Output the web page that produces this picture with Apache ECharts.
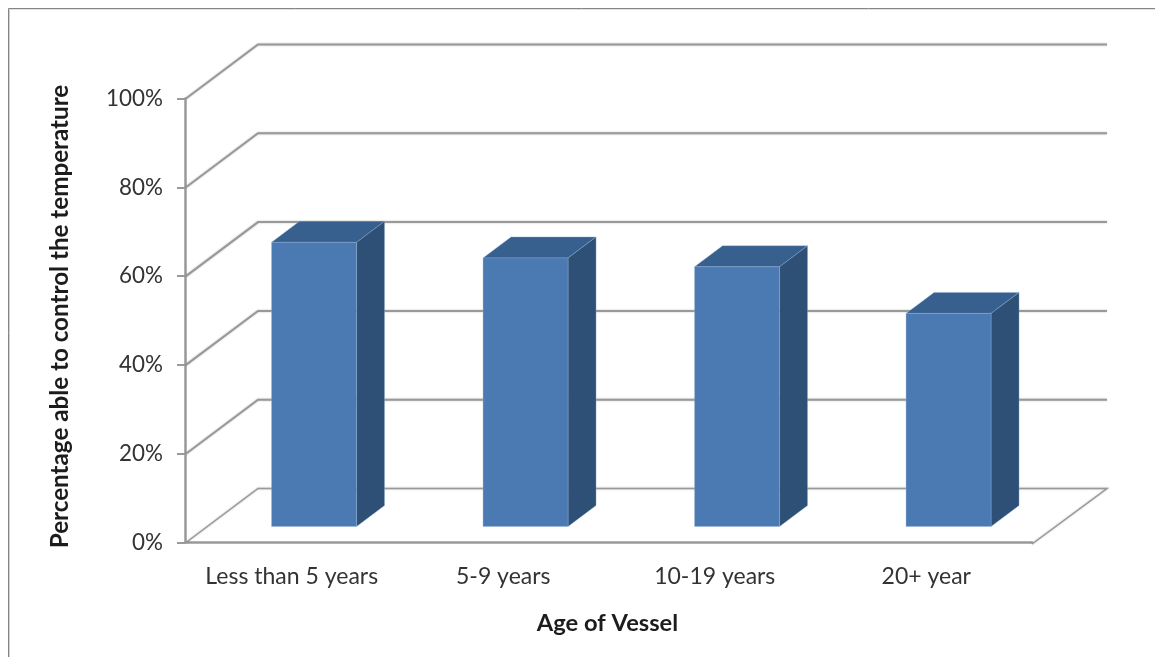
<!DOCTYPE html>
<html>
<head>
<meta charset="utf-8">
<style>
  html, body { margin: 0; padding: 0; background: #fff; }
  #vesselChart { width: 1155px; height: 657px; }
</style>
</head>
<body>
<div id="vesselChart"></div>
<script src="https://cdn.jsdelivr.net/npm/echarts@6/dist/echarts.min.js"></script>
<script>
const categories = ["Less than 5 years", "5-9 years", "10-19 years", "20+ year"];
const percentAble = [64, 60.5, 58.5, 48];
const wallTicks = [0, 20, 40, 60, 80, 100];

// fake 3d: how far the back wall and the bars are pushed back
const WALL_DX = 72, WALL_RIGHT_DX = 75, WALL_DY = -54;
const BAR_SHIFT_X = 22.3, BAR_SHIFT_Y = -16;
const BAR_DX = 28, BAR_DY = -21;
const BAR_WIDTH = 85;
const LINE = "#999999";
const FONT = "Lato";

let myChart = echarts.init(document.getElementById("vesselChart"));

function renderWall(params, api) {
  let value = api.value(0);
  let first = api.coord([0, value]);
  let last = api.coord([categories.length - 1, value]);
  let band = api.size([1, 0])[0];
  let left = first[0] - band / 2;
  let right = last[0] + band / 2;
  let y = first[1];
  let points = [[left, y], [left + WALL_DX, y + WALL_DY], [right + WALL_RIGHT_DX, y + WALL_DY]];
  if (value === 0) {
    points.push([right, y + 1.5]);
  }
  return {
    type: "polyline",
    shape: { points },
    style: {
      stroke: LINE,
      fill: null,
      lineWidth: value === 0 ? 1.5 : 2,
      shadowBlur: 2,
      shadowColor: "rgba(0,0,0,0.25)",
    },
  };
}

function renderBar(params, api) {
  let top = api.coord([api.value(0), api.value(1)]);
  let base = api.coord([api.value(0), 0]);
  let x0 = top[0] + BAR_SHIFT_X - BAR_WIDTH / 2;
  let x1 = x0 + BAR_WIDTH;
  let y0 = top[1] + BAR_SHIFT_Y;
  let y1 = base[1] + BAR_SHIFT_Y;
  let edge = { stroke: "rgba(150,180,215,0.35)", lineWidth: 1 };
  return {
    type: "group",
    children: [
      {
        type: "polygon",
        shape: { points: [[x0, y0], [x0 + BAR_DX, y0 + BAR_DY], [x1 + BAR_DX, y0 + BAR_DY], [x1, y0]] },
        style: { fill: "#38608f", ...edge },
      },
      {
        type: "polygon",
        shape: { points: [[x1, y0], [x1 + BAR_DX, y0 + BAR_DY], [x1 + BAR_DX, y1 + BAR_DY], [x1, y1]] },
        style: { fill: "#2e5077", ...edge },
      },
      {
        type: "rect",
        shape: { x: x0, y: y0, width: BAR_WIDTH, height: y1 - y0 },
        style: { fill: "#4b7ab3", ...edge },
      },
    ],
  };
}

myChart.setOption({
  animation: false,
  backgroundColor: "#fff",
  graphic: [
    { type: "line", shape: { x1: 9.5, y1: 9.5, x2: 1155, y2: 9.5 }, style: { stroke: "#e2e2e2", lineWidth: 1 } },
    { type: "line", shape: { x1: 9.5, y1: 9.5, x2: 9.5, y2: 657 }, style: { stroke: "#d0d0d0", lineWidth: 1 } },
    { type: "line", shape: { x1: 8.5, y1: 8.5, x2: 1155, y2: 8.5 }, style: { stroke: "#858585", lineWidth: 1 } },
    { type: "line", shape: { x1: 8.5, y1: 8.5, x2: 8.5, y2: 657 }, style: { stroke: "#858585", lineWidth: 1 } },
  ],
  grid: { left: 186, top: 98.5, width: 846, height: 444 },
  xAxis: {
    type: "category",
    data: categories,
    offset: 1.5,
    name: "Age of Vessel",
    nameLocation: "middle",
    nameGap: 67,
    nameTextStyle: { fontFamily: FONT, fontSize: 23.7, fontWeight: "bold", color: "#1c1c1c", padding: [0, 3, 0, 0] },
    axisLine: { lineStyle: { color: LINE, width: 2.5 } },
    axisTick: { length: 6, lineStyle: { color: LINE, width: 1.5 } },
    axisLabel: { fontFamily: FONT, fontSize: 23, color: "#333", margin: 21, interval: 0 },
  },
  yAxis: {
    type: "value",
    min: 0,
    max: 100,
    interval: 20,
    offset: 1,
    name: "Percentage able to control the temperature",
    nameLocation: "middle",
    nameGap: 113,
    nameTextStyle: { fontFamily: FONT, fontSize: 24.2, fontWeight: "bold", color: "#1c1c1c", padding: [0, 0, 0, 8] },
    splitLine: { show: false },
    axisLine: { show: true, lineStyle: { color: LINE, width: 2.5 } },
    axisTick: { show: true, length: 8, lineStyle: { color: LINE, width: 2 } },
    axisLabel: { fontFamily: FONT, fontSize: 22.4, color: "#333", margin: 22, formatter: "{value}%" },
  },
  series: [
    {
      type: "custom",
      clip: false,
      silent: true,
      coordinateSystem: "cartesian2d",
      renderItem: renderWall,
      encode: { y: 0 },
      data: wallTicks.map((v) => [v]),
      z: 1,
    },
    {
      type: "custom",
      clip: false,
      coordinateSystem: "cartesian2d",
      renderItem: renderBar,
      encode: { x: 0, y: 1 },
      data: percentAble.map((v, i) => [i, v]),
      z: 2,
    },
  ],
});
</script>
</body>
</html>
